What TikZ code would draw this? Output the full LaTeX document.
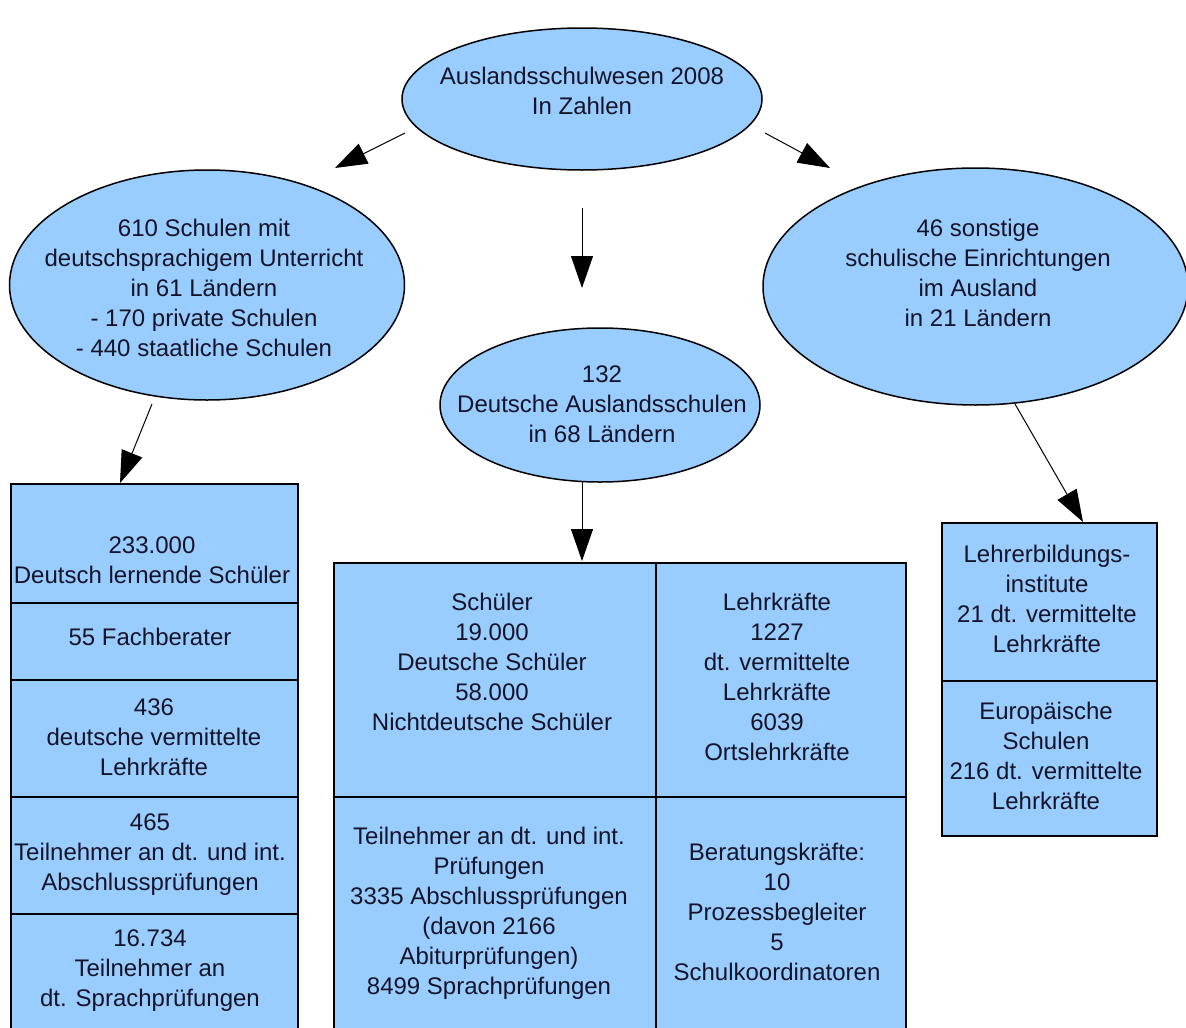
\documentclass[tikz,border=0pt]{standalone}
\usepackage{fontspec}
\setmainfont{Liberation Sans}
\usetikzlibrary{shapes.geometric,arrows.meta}
\definecolor{fillb}{RGB}{153,204,255}
\definecolor{txt}{RGB}{20,20,40}
\begin{document}
\begin{tikzpicture}[x=1pt,y=-1pt,
 ell/.style={ellipse,draw=black,line width=1.5pt,fill=fillb,inner sep=0pt},
 cell/.style={rectangle,draw=black,line width=1.5pt,fill=fillb,inner sep=0pt,anchor=north west},
 lbl/.style={align=center,text=txt,font=\fontsize{24}{30}\selectfont,inner sep=0pt},
 arr/.style={line width=1pt,-{Triangle[length=32pt,width=22pt]}}]
\useasboundingbox (0,0) rectangle (1186,1028);
\fill[white] (0,0) rectangle (1186,1028);
\clip (0,0) rectangle (1186,1028);

% ellipses
\node[ell,minimum width=360pt,minimum height=142pt] (top) at (582,99) {};
\node[ell,minimum width=395pt,minimum height=230pt] (lft) at (207,285) {};
\node[ell,minimum width=425pt,minimum height=237pt] (rgt) at (975.5,286.5) {};
\node[ell,minimum width=320pt,minimum height=154pt] (mid) at (600,405) {};

\node[lbl] (ttop) at (582,90.5) {Auslandsschulwesen 2008\\In Zahlen};
\node[lbl] (tlft) at (204,288) {610 Schulen mit\\deutschsprachigem Unterricht\\in 61 Ländern\\- 170 private Schulen\\- 440 staatliche Schulen};
\node[lbl] (trgt) at (978,273) {46 sonstige\\schulische Einrichtungen\\im Ausland\\in 21 Ländern};
\node[lbl] (tmid) at (602,404) {132\\Deutsche Auslandsschulen\\in 68 Ländern};

% left box
\node[cell,minimum width=287pt,minimum height=119pt] (l1) at (10,483) {};
\node[cell,minimum width=287pt,minimum height=77pt] (l2) at (10,602) {};
\node[cell,minimum width=287pt,minimum height=117pt] (l3) at (10,679) {};
\node[cell,minimum width=287pt,minimum height=117pt] (l4) at (10,796) {};
\node[cell,minimum width=287pt,minimum height=140pt] (l5) at (10,913) {};
\node[lbl] (tl1) at (152,560) {233.000\\Deutsch lernende Schüler};
\node[lbl] (tl2) at (150,637) {55 Fachberater};
\node[lbl] (tl3) at (154,737) {436\\deutsche vermittelte\\Lehrkräfte};
\node[lbl] (tl4) at (150,855) {465\\Teilnehmer an dt. und int.\\Abschlussprüfungen};
\node[lbl] (tl5) at (150,971) {16.734\\Teilnehmer an\\dt. Sprachprüfungen};

% middle table
\node[cell,minimum width=322pt,minimum height=234pt] (m1) at (333,562) {};
\node[cell,minimum width=250pt,minimum height=234pt] (m2) at (655,562) {};
\node[cell,minimum width=322pt,minimum height=260pt] (m3) at (333,796) {};
\node[cell,minimum width=250pt,minimum height=260pt] (m4) at (655,796) {};
\node[lbl] (tm1) at (492,661.5) {Schüler\\19.000\\Deutsche Schüler\\58.000\\Nichtdeutsche Schüler};
\node[lbl] (tm2) at (777,676.5) {Lehrkräfte\\1227\\dt. vermittelte\\Lehrkräfte\\6039\\Ortslehrkräfte};
\node[lbl] (tm3) at (489,913) {Teilnehmer an dt. und int.\\Prüfungen\\3335 Abschlussprüfungen\\(davon 2166\\Abiturprüfungen)\\8499 Sprachprüfungen};
\node[lbl] (tm4) at (777,912) {Beratungskräfte:\\10\\Prozessbegleiter\\5\\Schulkoordinatoren};

% right box
\node[cell,minimum width=215pt,minimum height=158pt] (r1) at (941,522) {};
\node[cell,minimum width=215pt,minimum height=155pt] (r2) at (941,680) {};
\node[lbl] (tr1) at (1047,599) {Lehrerbildungs-\\institute\\21 dt. vermittelte\\Lehrkräfte};
\node[lbl] (tr2) at (1046,756) {Europäische\\Schulen\\216 dt. vermittelte\\Lehrkräfte};

% connector ends
\coordinate (a1s) at (405,133); \coordinate (a1e) at (335,168);
\coordinate (a2s) at (765,133); \coordinate (a2e) at (830,168);
\coordinate (a3s) at (582,208); \coordinate (a3e) at (582,288);
\coordinate (a4s) at (152,404); \coordinate (a4e) at (120,483);
\coordinate (a5s) at (582,482); \coordinate (a5e) at (582,561);
\coordinate (a6s) at (1015,404); \coordinate (a6e) at (1083,522);
\draw[arr] (a1s) -- (a1e);
\draw[arr] (a2s) -- (a2e);
\draw[arr] (a3s) -- (a3e);
\draw[arr] (a4s) -- (a4e);
\draw[arr] (a5s) -- (a5e);
\draw[arr] (a6s) -- (a6e);
\end{tikzpicture}
\end{document}
